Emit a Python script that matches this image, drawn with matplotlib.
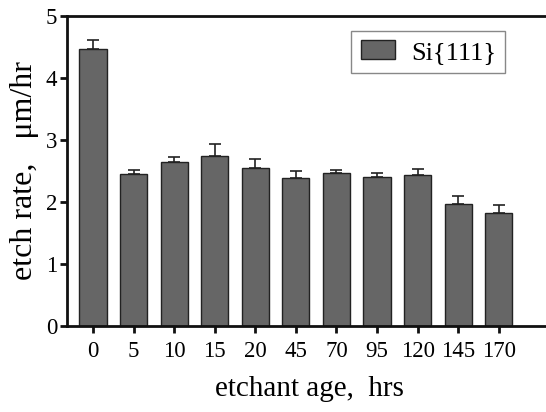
import matplotlib
matplotlib.use("Agg")
import matplotlib.pyplot as plt
import numpy as np

categories = ["0", "5", "10", "15", "20", "45", "70", "95", "120", "145", "170"]
etch_rate = [4.47, 2.45, 2.64, 2.74, 2.55, 2.38, 2.47, 2.40, 2.44, 1.97, 1.82]
err_up = [0.15, 0.07, 0.09, 0.19, 0.15, 0.12, 0.04, 0.06, 0.10, 0.13, 0.13]
y_ticks = [0, 1, 2, 3, 4, 5]

plt.rcParams['font.family'] = ['Liberation Serif', 'DejaVu Serif']

fig = plt.figure(figsize=(5.46, 4.12), dpi=100)
ax_w = (546 - 67) / 546 + 0.01
ax = fig.add_axes([67/546, 1-326/412, ax_w, (326-16)/412])

x = np.arange(len(categories))
zeros = [0]*len(err_up)
ax.bar(x, etch_rate, width=0.67, color='#666666', edgecolor='#222222', linewidth=1.0,
       label='Si{111}', zorder=2)
ax.errorbar(x, etch_rate, yerr=[zeros, err_up], fmt='none', ecolor='#222222',
            elinewidth=1.2, capsize=4, capthick=1.2, zorder=3)

ax.set_xlim(-0.64, 11.3)
ax.set_ylim(0, 5)
ax.set_yticks(y_ticks)
ax.set_xticks(x)
ax.set_xticklabels(categories)

for s in ax.spines.values():
    s.set_linewidth(2)
    s.set_color('#111111')
ax.tick_params(axis='both', direction='out', width=2, length=5, labelsize=16.5, color='#111111')
ax.tick_params(axis='x', pad=6)
ax.tick_params(axis='y', pad=2)

ax.set_xlabel('etchant age,  hrs', fontsize=21, labelpad=10)
ax.set_ylabel('etch rate,   μm/hr', fontsize=23, labelpad=5)

ax_px_w = ax_w * 546
leg = ax.legend(loc='upper right', bbox_to_anchor=((505 - 67) / ax_px_w, (326 - 31) / 310),
                fontsize=19, fancybox=False, edgecolor='#888888', framealpha=1,
                handlelength=1.3, handleheight=0.7, borderaxespad=0, borderpad=0.35,
                handletextpad=0.6)
leg.get_frame().set_linewidth(1.0)

fig.savefig('out.png', dpi=100)
